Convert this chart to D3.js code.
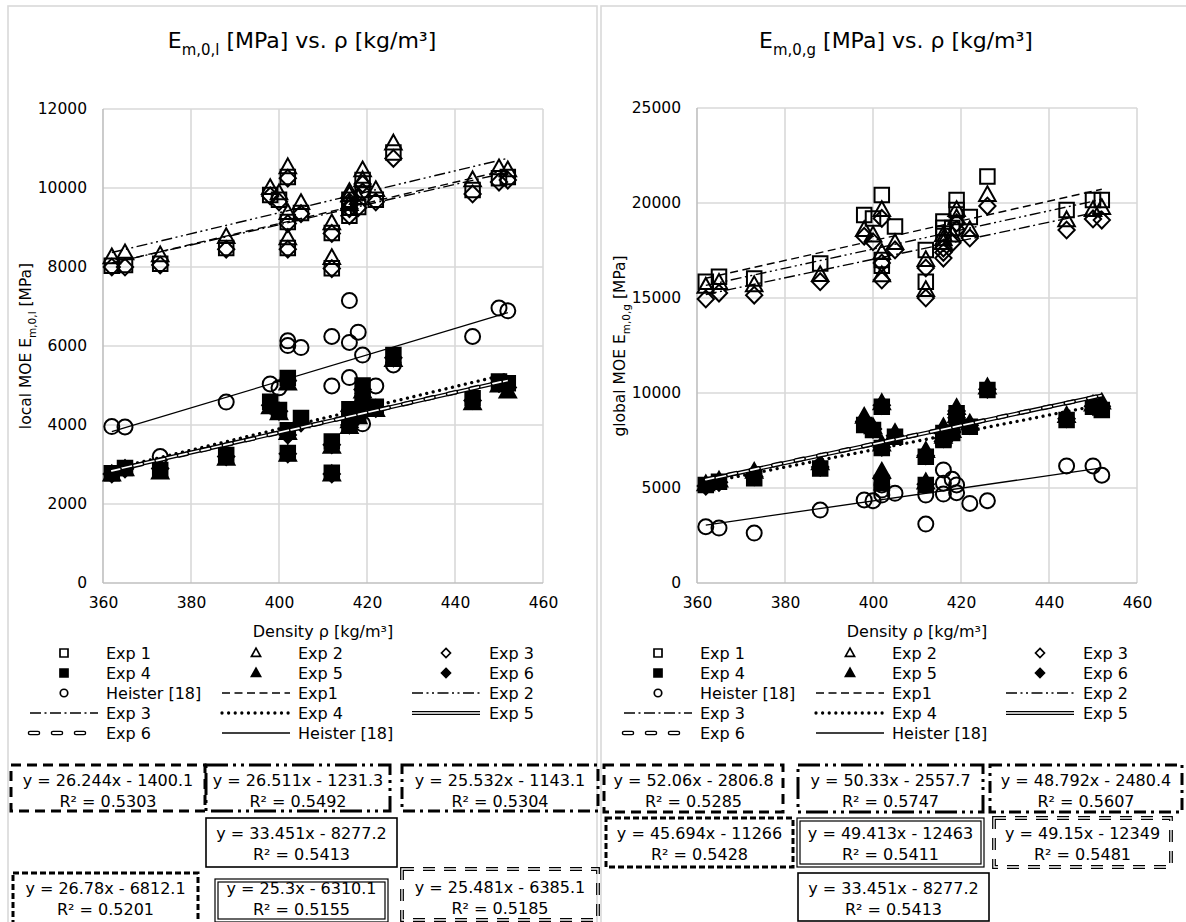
<!DOCTYPE html>
<html><head><meta charset="utf-8">
<script src="https://cdn.jsdelivr.net/npm/d3@7"></script>
<style>
body{margin:0;background:#fff}
svg{display:block}
text{font-family:"DejaVu Sans",Verdana,sans-serif;fill:#000}
</style>
</head><body>
<svg id="c" width="1186" height="922"></svg>
<script>
// ---------------- DATA ----------------
const densities = [362,365,373,388,398,400,402,402,402,405,412,412,416,416,416,418,419,419,422,426,444,450,452];
const xTicks = [360,380,400,420,440,460];
const localTicks = [0,2000,4000,6000,8000,10000,12000];
const globalTicks = [0,5000,10000,15000,20000,25000];
const markerNames = ["Exp 1","Exp 2","Exp 3","Exp 4","Exp 5","Exp 6","Heister [18]"];
const trendNames  = ["Exp1","Exp 2","Exp 3","Exp 4","Exp 5","Exp 6","Heister [18]"];

// local MOE E_m,0,l [MPa]
const localExp1 = [8030,8050,8080,8480,9820,9700,10280,9140,8480,9370,8860,7970,9700,9500,9300,9520,10200,9950,9700,10900,9950,10250,10280];
const localExp2 = [8250,8350,8300,8760,10000,9870,10530,9370,8730,9620,9110,8230,9900,9820,9600,9750,10450,10200,9950,11130,10200,10500,10450];
const localExp3 = [8000,8000,8050,8450,9800,9650,10250,9100,8450,9350,8850,7960,9650,9480,9300,9500,10100,9900,9650,10750,9850,10150,10200];
const localExp4 = [2780,2910,2860,3240,4590,4380,5190,3870,3290,4180,3580,2790,4400,4200,4000,4250,5000,4600,4460,5770,4680,5100,5060];
const localExp5 = [2750,2880,2800,3150,4450,4300,5050,3800,3250,4100,3450,2750,4300,4100,3950,4200,4850,4550,4380,5650,4550,5000,4850];
const localExp6 = [2760,2890,2900,3200,4500,4350,5120,3750,3270,4050,3500,2760,4350,4150,4000,4230,4900,4580,4420,5700,4620,5050,4950];
const localHeister = [3960,3950,3200,4580,5040,4940,6130,6010,5150,5960,6240,4990,7150,6090,5200,6350,5770,4030,4990,5520,6240,6960,6890];

// global MOE E_m,0,g [MPa]
const globalExp1 = [15860,16120,16030,16820,19370,19190,20420,17000,16700,18760,17530,15860,19020,18700,18400,18680,20160,19630,19260,21390,19630,20160,20160];
const globalExp2 = [15600,15800,15680,16210,18580,18300,19630,17370,16200,17900,17000,15420,18320,18100,17900,18300,19630,19200,18580,20420,19100,19630,19740];
const globalExp3 = [14950,15260,15150,15860,18250,17960,19190,16840,15950,17530,16580,15000,17630,17400,17100,17900,18950,18600,18160,19840,18580,19160,19100];
const globalExp4 = [5160,5330,5510,6030,8310,8050,9280,7100,5260,7700,6650,5160,7890,7530,7600,7890,8930,8600,8230,10160,8580,9280,9100];
const globalExp5 = [5200,5400,5860,6310,8750,8200,9470,7300,5860,7900,6950,5300,8200,7700,7800,8000,9210,8800,8400,10300,8800,9400,9500];
const globalExp6 = [5100,5300,5600,6100,8500,8100,9350,7150,5500,7750,6700,5200,8000,7600,7650,7950,9050,8700,8300,10200,8650,9300,9300];
const globalHeister = [2960,2890,2630,3840,4370,4330,5160,4890,4630,4720,4630,3100,5950,5250,4680,5460,5160,4750,4190,4330,6160,6160,5670];

// trendline coefficients (y = slope*x + intercept)
const localSlopes = [26.244,26.511,25.532,26.78,25.3,25.481,33.451];
const localIntercepts = [-1400.1,-1231.3,-1143.1,-6812.1,-6310.1,-6385.1,-8277.2];
const globalSlopes = [52.06,50.33,48.792,45.694,49.413,49.15,33.4];
const globalIntercepts = [-2806.8,-2557.7,-2480.4,-11266,-12463,-12349,-9040]; // Heister line
// equation labels as printed
const localEquations = ["y = 26.244x - 1400.1","y = 26.511x - 1231.3","y = 25.532x - 1143.1","y = 26.78x - 6812.1","y = 25.3x - 6310.1","y = 25.481x - 6385.1","y = 33.451x - 8277.2"];
const localR2 = ["0.5303","0.5492","0.5304","0.5201","0.5155","0.5185","0.5413"];
const globalEquations = ["y = 52.06x - 2806.8","y = 50.33x - 2557.7","y = 48.792x - 2480.4","y = 45.694x - 11266","y = 49.413x - 12463","y = 49.15x - 12349","y = 33.451x - 8277.2"];
const globalR2 = ["0.5285","0.5747","0.5607","0.5428","0.5411","0.5481","0.5413"];

// ---------------- LAYOUT ----------------
const svg = d3.select("#c");
const FONT = 15.5, LFONT = 16;

// [x0, y0, x1, y1, first text baseline]
const leftBoxes = [[11,765,205,811,786],[206,765,390,811,786],[402,765,598,811,786],[13,873,198,926,894],[215,879,388,922,894],[402,869,598,920,893],[206,818,397,867,839]];
const rightBoxes = [[604,765,783,812,786],[798,765,983,812,786],[990,765,1182,812,786],[606,818,793,867,839],[797,818,984,867,839],[994,818,1171,867,839],[798,873,989,921,894]];

function markerPath(kind, s){
  if(kind==="square") return `M${-s/2},${-s/2}h${s}v${s}h${-s}Z`;
  if(kind==="triangle") return `M0,${-s*0.6}L${s*0.57},${s*0.42}L${-s*0.57},${s*0.42}Z`;
  if(kind==="diamond") return `M0,${-s*0.58}L${s*0.56},0L0,${s*0.58}L${-s*0.56},0Z`;
  return "";
}
const markerKinds = ["square","triangle","diamond","square","triangle","diamond","circle"];
const markerFilled = [false,false,false,true,true,true,false];

function drawMarker(g, kind, filled, cx, cy, s, sw){
  if(kind==="circle"){
    g.append("circle").attr("cx",cx).attr("cy",cy).attr("r",s/2)
      .attr("fill","none").attr("stroke","#000").attr("stroke-width",sw);
  } else {
    g.append("path").attr("d",markerPath(kind,s)).attr("transform",`translate(${cx},${cy})`)
      .attr("fill",filled?"#000":"none").attr("stroke","#000").attr("stroke-width",sw)
      .attr("stroke-linejoin","miter");
  }
}

function styledLine(g, x1,y1,x2,y2, idx){
  const base = ()=>g.append("line").attr("x1",x1).attr("y1",y1).attr("x2",x2).attr("y2",y2).attr("fill","none");
  switch(idx){
    case 0: base().attr("stroke","#000").attr("stroke-width",1.4).attr("stroke-dasharray","8,4.5"); break;
    case 1: base().attr("stroke","#000").attr("stroke-width",1.4).attr("stroke-dasharray","11,3.5,2,3.5,2,3.5"); break;
    case 2: base().attr("stroke","#000").attr("stroke-width",1.4).attr("stroke-dasharray","11,3.5,2,3.5"); break;
    case 3: base().attr("stroke","#000").attr("stroke-width",3.3).attr("stroke-dasharray","0.01,6.6").attr("stroke-linecap","round"); break;
    case 4: base().attr("stroke","#000").attr("stroke-width",4.2);
            base().attr("stroke","#fff").attr("stroke-width",1.6); break;
    case 5: base().attr("stroke","#000").attr("stroke-width",4.6).attr("stroke-dasharray","8,15").attr("stroke-linecap","round");
            base().attr("stroke","#fff").attr("stroke-width",1.8).attr("stroke-dasharray","8,15").attr("stroke-linecap","round"); break;
    default: base().attr("stroke","#000").attr("stroke-width",1.3);
  }
}

function styledRect(g, b, idx){
  const [x0,y0,x1,y1] = b;
  const r = (inset)=>g.append("rect").attr("x",x0+inset).attr("y",y0+inset)
      .attr("width",x1-x0-2*inset).attr("height",y1-y0-2*inset).attr("fill","none");
  switch(idx){
    case 0: r(0).attr("stroke","#000").attr("stroke-width",3).attr("stroke-dasharray","10,6"); break;
    case 1: r(0).attr("stroke","#000").attr("stroke-width",3).attr("stroke-dasharray","22,5,3,5,3,5"); break;
    case 2: r(0).attr("stroke","#000").attr("stroke-width",3).attr("stroke-dasharray","12,5,3,5"); break;
    case 3: r(0).attr("stroke","#000").attr("stroke-width",3).attr("stroke-dasharray","6,3"); break;
    case 4: r(0).attr("stroke","#000").attr("stroke-width",1.2);
            r(3).attr("stroke","#000").attr("stroke-width",1.2); break;
    case 5: r(0).attr("stroke","#000").attr("stroke-width",3.8).attr("stroke-dasharray","12,9");
            r(0).attr("stroke","#fff").attr("stroke-width",1.3).attr("stroke-dasharray","12,9"); break;
    default: r(0).attr("stroke","#000").attr("stroke-width",1.6);
  }
}

function richText(g, x, y, parts, size, anchor, transform){
  const t = g.append("text").attr("x",x).attr("y",y).attr("text-anchor",anchor||"middle")
     .attr("font-size",size);
  if(transform) t.attr("transform",transform);
  let inSub=false;
  parts.forEach((p,i)=>{
    const sub = (i%2===1);
    const ts = t.append("tspan").text(p);
    if(sub){ ts.attr("font-size",size*0.68).attr("dy",size*0.3); inSub=true; }
    else if(inSub){ ts.attr("dy",-size*0.3); inSub=false; }
  });
  return t;
}

function drawPanel(cfg){
  const g = svg.append("g");
  const ox = cfg.ox;
  g.append("rect").attr("x",cfg.border[0]).attr("y",cfg.border[1]).attr("width",cfg.border[2]).attr("height",cfg.border[3])
    .attr("fill","none").attr("stroke","#d9d9d9").attr("stroke-width",1.6);

  const x = d3.scaleLinear().domain([360,460]).range([103+ox, 543+ox]);
  const y = d3.scaleLinear().domain([0,cfg.yMax]).range([583, cfg.top]);

  const grid = g.append("g");
  grid.selectAll("line.h").data(cfg.yTicks.slice(1)).join("line")
    .attr("x1",x(360)).attr("x2",x(460)).attr("y1",d=>y(d)).attr("y2",d=>y(d))
    .attr("stroke","#d9d9d9").attr("stroke-width",1.6);
  grid.selectAll("line.v").data(xTicks.slice(1)).join("line")
    .attr("x1",d=>x(d)).attr("x2",d=>x(d)).attr("y1",y(0)).attr("y2",y(cfg.yMax))
    .attr("stroke","#d9d9d9").attr("stroke-width",1.6);
  g.append("line").attr("x1",x(360)).attr("x2",x(460)).attr("y1",y(0)).attr("y2",y(0)).attr("stroke","#bfbfbf").attr("stroke-width",1.6);
  g.append("line").attr("x1",x(360)).attr("x2",x(360)).attr("y1",y(0)).attr("y2",y(cfg.yMax)).attr("stroke","#bfbfbf").attr("stroke-width",1.6);

  const ax = g.append("g").attr("transform",`translate(0,${y(0)})`)
    .call(d3.axisBottom(x).tickValues(xTicks).tickSize(0).tickPadding(14));
  const ay = g.append("g").attr("transform",`translate(${x(360)},0)`)
    .call(d3.axisLeft(y).tickValues(cfg.yTicks).tickSize(0).tickPadding(16).tickFormat(d3.format("d")));
  [ax,ay].forEach(a=>{ a.select(".domain").remove();
    a.selectAll("text").attr("font-size",FONT).attr("font-family","DejaVu Sans, Verdana, sans-serif").attr("fill","#000"); });

  richText(g, 302+ox, 48, cfg.title, 22);
  richText(g, 0, 0, cfg.ylabel, FONT, "middle", `translate(${31+ox},346) rotate(-90)`);
  g.append("text").attr("x",323+ox).attr("y",637).attr("text-anchor","middle").attr("font-size",LFONT).text("Density ρ [kg/m³]");

  const mk = g.append("g");
  cfg.series.forEach((vals,si)=>{
    vals.forEach((v,i)=>{
      drawMarker(mk, markerKinds[si], markerFilled[si], x(densities[i]), y(v),
        markerKinds[si]==="circle"?15:14.5, 2);
    });
  });
  const [xmin,xmax] = d3.extent(densities);
  const tl = g.append("g");
  cfg.slopes.forEach((s,i)=>{
    const b = cfg.intercepts[i];
    styledLine(tl, x(xmin), y(s*xmin+b), x(xmax), y(s*xmax+b), i);
  });

  const lg = g.append("g");
  const rowsY = [653,673,693,713,733];
  const lineSpans = [[30,98],[222,290],[412,480]];
  const textX = [106,298,489];
  const entries = [];
  markerNames.forEach((n,i)=>entries.push({type:"m",i,n}));
  trendNames.forEach((n,i)=>entries.push({type:"l",i,n}));
  entries.forEach((e,k)=>{
    const row = Math.floor(k/3), col = k%3;
    const cy = rowsY[row];
    const [l0,l1] = lineSpans[col];
    if(e.type==="m"){
      drawMarker(lg, markerKinds[e.i], markerFilled[e.i], (l0+l1)/2+ox, cy,
        markerKinds[e.i]==="circle"?7.5:8, 1.7);
    } else {
      styledLine(lg, l0+ox, cy, l1+ox, cy, e.i);
    }
    lg.append("text").attr("x",textX[col]+ox).attr("y",cy+5.8).attr("font-size",LFONT).text(e.n);
  });

  const eb = g.append("g");
  cfg.boxes.forEach((b,i)=>{
    styledRect(eb, b, i);
    const cx = (b[0]+b[2])/2;
    eb.append("text").attr("x",cx).attr("y",b[4]).attr("text-anchor","middle").attr("font-size",LFONT).text(cfg.eq[i]);
    eb.append("text").attr("x",cx).attr("y",b[4]+20.5).attr("text-anchor","middle").attr("font-size",LFONT).text("R² = "+cfg.r2[i]);
  });
}

drawPanel({ox:0, top:109, yMax:12000, yTicks:localTicks,
  series:[localExp1,localExp2,localExp3,localExp4,localExp5,localExp6,localHeister],
  slopes:localSlopes, intercepts:localIntercepts, eq:localEquations, r2:localR2,
  title:["E","m,0,l"," [MPa] vs. ρ [kg/m³]"], ylabel:["local MOE E","m,0,l"," [MPa]"],
  boxes:leftBoxes, border:[8,6,589,940]});
drawPanel({ox:594, top:108, yMax:25000, yTicks:globalTicks,
  series:[globalExp1,globalExp2,globalExp3,globalExp4,globalExp5,globalExp6,globalHeister],
  slopes:globalSlopes, intercepts:globalIntercepts, eq:globalEquations, r2:globalR2,
  title:["E","m,0,g"," [MPa] vs. ρ [kg/m³]"], ylabel:["global MOE E","m,0,g"," [MPa]"],
  boxes:rightBoxes, border:[601,6,600,940]});
</script>
</body></html>
